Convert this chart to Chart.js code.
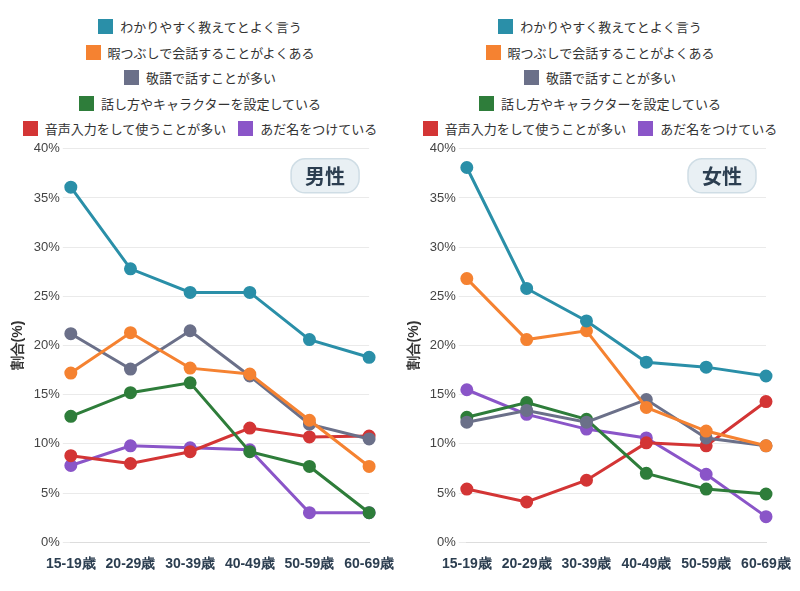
<!DOCTYPE html>
<html><head><meta charset="utf-8">
<script src="https://cdn.jsdelivr.net/npm/chart.js@4"></script>
<style>
body{margin:0;background:#fff;font-family:"Noto Sans CJK JP","Noto Sans",sans-serif;}
#wrap{display:flex;width:800px;height:591px;}
.panel{width:400px;height:591px;position:relative;}
.legend{height:138px;padding-top:14px;box-sizing:border-box;}
.row{display:flex;justify-content:center;height:25.5px;align-items:center;}
.item{display:flex;align-items:center;margin:0 6px;font-size:13px;color:#333;}
.box{width:15px;height:15px;margin-right:7px;}
.cv{width:400px;height:453px;}
</style></head><body>
<div id="wrap">
<div class="panel"><div class="legend" id="lg0"></div><div class="cv"><canvas id="c0"></canvas></div></div>
<div class="panel"><div class="legend" id="lg1"></div><div class="cv"><canvas id="c1"></canvas></div></div>
</div>
<script>
const categories=["15-19歳","20-29歳","30-39歳","40-49歳","50-59歳","60-69歳"];
const seriesNames=["わかりやすく教えてとよく言う","暇つぶしで会話することがよくある","敬語で話すことが多い","話し方やキャラクターを設定している","音声入力をして使うことが多い","あだ名をつけている"];
const colors=["#2a8fa8","#f58231","#6b7089","#2e7d3a","#d33535","#8a55c8"];
const panelTitles=["男性","女性"];
const male=[
 [36.1,27.8,25.4,25.4,20.6,18.8],
 [17.2,21.3,17.7,17.1,12.4,7.7],
 [21.2,17.6,21.5,16.9,12.0,10.5],
 [12.8,15.2,16.2,9.2,7.7,3.0],
 [8.8,8.0,9.2,11.6,10.7,10.8],
 [7.8,9.8,9.6,9.4,3.0,3.0]];
const female=[
 [38.1,25.8,22.5,18.3,17.8,16.9],
 [26.8,20.6,21.5,13.7,11.3,9.8],
 [12.2,13.4,12.2,14.5,10.6,9.8],
 [12.7,14.2,12.5,7.0,5.4,4.9],
 [5.4,4.1,6.3,10.1,9.8,14.3],
 [15.5,13.0,11.5,10.6,6.9,2.6]];
const yTicks=[0,5,10,15,20,25,30,35,40];
const legendRows=[[0],[1],[2],[3],[4,5]];

function badge(text){return{id:'badge',afterDraw(ch){
 const c=ch.ctx,a=ch.chartArea;const w=68,h=34,x=a.right-78,y=a.top+10;
 c.save();c.beginPath();c.roundRect(x,y,w,h,14);c.fillStyle='#e9f0f4';c.fill();
 c.strokeStyle='#cfdde5';c.lineWidth=1.5;c.stroke();
 c.fillStyle='#2c3e50';c.font='bold 20px "Noto Sans CJK JP"';c.textAlign='center';c.textBaseline='middle';
 c.fillText(text,x+w/2,y+h/2+1);c.restore();}}}

[male,female].forEach((data,i)=>{
 const lg=document.getElementById('lg'+i);
 legendRows.forEach(r=>{const row=document.createElement('div');row.className='row';
  r.forEach(k=>{const it=document.createElement('div');it.className='item';
   it.innerHTML='<span class="box" style="background:'+colors[k]+'"></span>'+seriesNames[k];row.appendChild(it);});
  lg.appendChild(row);});
 new Chart(document.getElementById('c'+i),{type:'line',
  data:{labels:categories,datasets:data.map((d,k)=>({label:seriesNames[k],data:d,borderColor:colors[k],backgroundColor:colors[k],
   borderWidth:3,pointRadius:5,pointHoverRadius:5,tension:0}))},
  options:{responsive:true,maintainAspectRatio:false,animation:false,
   layout:{padding:{top:9,bottom:12,right:i==0?30:34,left:i==0?6:2}},
   plugins:{legend:{display:false},tooltip:{enabled:false}},
   scales:{
    x:{offset:false,grid:{display:false},border:{color:'#ddd'},
     ticks:{color:'#2c3e50',font:{size:14,weight:'bold'},maxRotation:0,padding:6}},
    y:{min:0,max:40,afterBuildTicks(ax){ax.ticks=yTicks.map(v=>({value:v}));},
     grid:{color:'#eaeaea'},border:{display:false},
     ticks:{color:'#444',font:{size:13},callback:v=>v+'%'},
     title:{display:true,text:'割合(%)',color:'#333',font:{size:14,weight:'bold'}}}}},
  plugins:[badge(panelTitles[i])]});
});
</script></body></html>
